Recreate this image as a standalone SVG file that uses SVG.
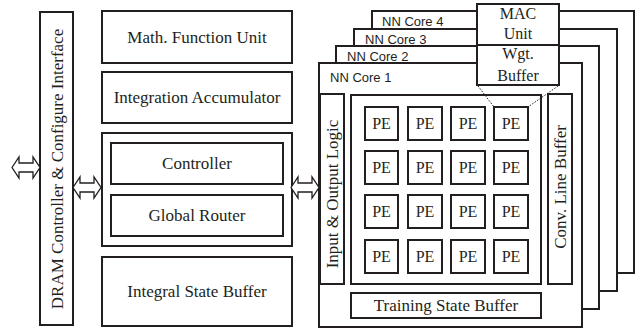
<svg xmlns="http://www.w3.org/2000/svg" width="644" height="330" viewBox="0 0 644 330">
<style>
.b{fill:#fff;stroke:#231f20;stroke-width:2}
.s{font-family:"Liberation Serif","Times New Roman",serif;font-size:17px;fill:#231f20;text-anchor:middle}
.pe{font-family:"Liberation Serif","Times New Roman",serif;font-size:16px;fill:#231f20;text-anchor:middle}
.ss{font-family:"Liberation Sans",Arial,sans-serif;font-size:13px;fill:#231f20}
.ar{fill:#fff;stroke:#231f20;stroke-width:1.3;stroke-linejoin:miter}
.dot{fill:none;stroke:#231f20;stroke-width:1;stroke-dasharray:1.5 1.5}
</style>
<rect width="644" height="330" fill="#fff"/>
<g id="dram">
<rect class="b" x="40" y="12" width="33" height="313"/>
<text class="s" transform="translate(62.5,169) rotate(-90)">DRAM Controller &amp; Configure Interface</text>
</g>
<g id="math">
<rect class="b" x="102" y="11" width="190" height="52"/>
<text class="s" x="197" y="43">Math. Function Unit</text>
</g>
<g id="integration">
<rect class="b" x="102" y="72" width="190" height="51"/>
<text class="s" x="197" y="103">Integration Accumulator</text>
</g>
<g id="control">
<rect class="b" x="102" y="133" width="190" height="113"/>
<g id="controller">
<rect class="b" x="111" y="143" width="172" height="41"/>
<text class="s" x="197" y="169">Controller</text>
</g>
<g id="router">
<rect class="b" x="111" y="195" width="172" height="41"/>
<text class="s" x="197" y="221">Global Router</text>
</g>
</g>
<g id="integral">
<rect class="b" x="102" y="257" width="190" height="69"/>
<text class="s" x="197" y="297">Integral State Buffer</text>
</g>
<g id="core4">
<rect class="b" x="372" y="11" width="262" height="262"/>
<text class="ss" x="382" y="26">NN Core 4</text>
</g>
<g id="core3">
<rect class="b" x="354" y="29" width="263" height="262"/>
<text class="ss" x="365" y="43.5">NN Core 3</text>
</g>
<g id="core2">
<rect class="b" x="336" y="46" width="263" height="263"/>
<text class="ss" x="347" y="61">NN Core 2</text>
</g>
<g id="core1">
<rect class="b" x="319" y="63" width="263" height="264"/>
<text class="ss" x="330" y="82">NN Core 1</text>
<g id="io">
<rect class="b" x="320" y="94" width="24" height="190"/>
<text class="s" transform="translate(338,194) rotate(-90)">Input &amp; Output Logic</text>
</g>
<g id="convbuf">
<rect class="b" x="548" y="94" width="24" height="190"/>
<text class="s" transform="translate(566,187) rotate(-90)">Conv. Line Buffer</text>
</g>
<g id="training">
<rect class="b" x="351" y="293" width="190" height="25"/>
<text class="s" x="446" y="311">Training State Buffer</text>
</g>
<g id="pe-array">
<rect class="b" x="351" y="95" width="190" height="189"/>
<g id="pe-grid">
<rect class="b" x="365" y="107" width="33" height="33"/><text class="pe" x="381.5" y="129">PE</text>
<rect class="b" x="408" y="107" width="34" height="33"/><text class="pe" x="425" y="129">PE</text>
<rect class="b" x="451" y="107" width="34" height="33"/><text class="pe" x="468" y="129">PE</text>
<rect class="b" x="494" y="107" width="34" height="33"/><text class="pe" x="511" y="129">PE</text>
<rect class="b" x="365" y="151" width="33" height="33"/><text class="pe" x="381.5" y="173">PE</text>
<rect class="b" x="408" y="151" width="34" height="33"/><text class="pe" x="425" y="173">PE</text>
<rect class="b" x="451" y="151" width="34" height="33"/><text class="pe" x="468" y="173">PE</text>
<rect class="b" x="494" y="151" width="34" height="33"/><text class="pe" x="511" y="173">PE</text>
<rect class="b" x="365" y="195" width="33" height="33"/><text class="pe" x="381.5" y="217">PE</text>
<rect class="b" x="408" y="195" width="34" height="33"/><text class="pe" x="425" y="217">PE</text>
<rect class="b" x="451" y="195" width="34" height="33"/><text class="pe" x="468" y="217">PE</text>
<rect class="b" x="494" y="195" width="34" height="33"/><text class="pe" x="511" y="217">PE</text>
<rect class="b" x="365" y="240" width="33" height="33"/><text class="pe" x="381.5" y="262">PE</text>
<rect class="b" x="408" y="240" width="34" height="33"/><text class="pe" x="425" y="262">PE</text>
<rect class="b" x="451" y="240" width="34" height="33"/><text class="pe" x="468" y="262">PE</text>
<rect class="b" x="494" y="240" width="34" height="33"/><text class="pe" x="511" y="262">PE</text>
</g>
</g>
</g>
<g id="pe-detail">
<g id="mac">
<rect class="b" x="477" y="4" width="82" height="41"/>
<text class="pe" x="518" y="19">MAC</text>
<text class="pe" x="518" y="39">Unit</text>
</g>
<g id="wgt">
<rect class="b" x="477" y="45" width="82" height="40"/>
<text class="pe" x="518" y="59">Wgt.</text>
<text class="pe" x="518" y="81">Buffer</text>
</g>
</g>
<g id="connectors">
<path class="ar" d="M12,167.5 L19,157 L19,163 L33,163 L33,157 L40,167.5 L33,178 L33,172 L19,172 L19,178 Z"/>
<path class="ar" d="M73,187.5 L80,177 L80,183 L94,183 L94,177 L101,187.5 L94,198 L94,192 L80,192 L80,198 Z"/>
<path class="ar" d="M291,187.5 L298,177 L298,183 L312,183 L312,177 L319,187.5 L312,198 L312,192 L298,192 L298,198 Z"/>
<line class="dot" x1="478" y1="86" x2="494" y2="107"/>
<line class="dot" x1="558" y1="86" x2="528" y2="107"/>
</g>
</svg>
